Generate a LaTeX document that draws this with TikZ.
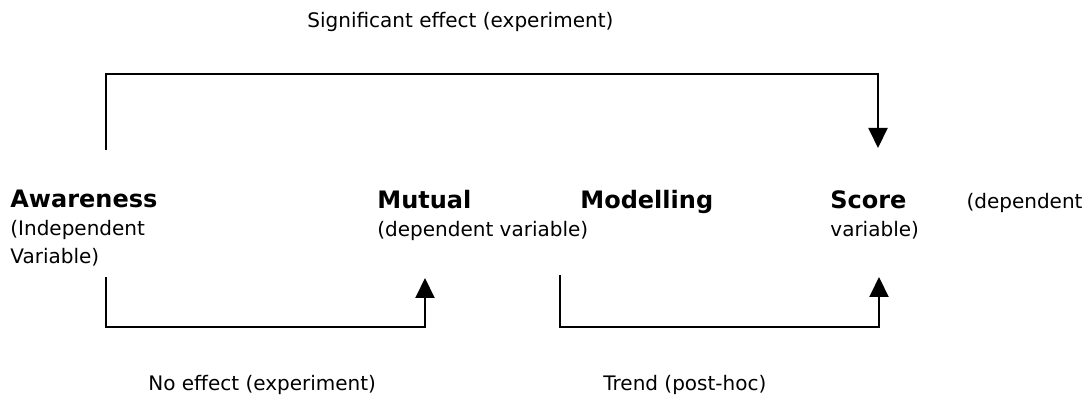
\documentclass[tikz,border=0pt]{standalone}
\usepackage{fontspec}
\setmainfont{DejaVu Sans}
\usetikzlibrary{arrows.meta}
\newcommand\vtitle[1]{{\fontsize{12}{14}\selectfont\bfseries #1}}

\begin{document}
\begin{tikzpicture}[x=0.5pt,y=-0.5pt]
        % base west = baseline of the last line
        \tikzset{varnode/.style = {anchor=base west,inner sep=0pt,align=left,font=\fontsize{10}{14}\selectfont}}
        \tikzset{note/.style = {anchor=base west,inner sep=0pt,font=\fontsize{10}{12}\selectfont}}
        \tikzset{link/.style = {line width=1pt,-{Triangle[width=9.5pt,length=10pt]}}}
        \useasboundingbox (0,0) rectangle (1091,405);

        \node[varnode] (awareness) at (10,264) {\vtitle{Awareness}\\(Independent\\Variable)};
        \node[varnode] (mutual) at (377,237) {\vtitle{Mutual}\\(dependent variable)};
        \node[varnode] (modelling) at (580,209) {\vtitle{Modelling}};
        \node[varnode] (score) at (830,237) {\vtitle{Score}\hspace{30pt}(dependent\\variable)};

        \node[note] (sig) at (307,28) {Significant effect (experiment)};
        \node[note] (noeff) at (148,390) {No effect (experiment)};
        \node[note] (trend) at (603,390) {Trend (post-hoc)};

        \coordinate (sig from) at (106,150);
        \coordinate (sig to) at (878,148);
        \coordinate (noeff from) at (106,277);
        \coordinate (noeff to) at (425,278);
        \coordinate (trend from) at (560,275);
        \coordinate (trend to) at (879,277);

        \draw[link] (sig from) -- ++(0,-76) -| (sig to);
        \draw[link] (noeff from) -- ++(0,50) -| (noeff to);
        \draw[link] (trend from) -- ++(0,52) -| (trend to);
      \end{tikzpicture}
\end{document}
